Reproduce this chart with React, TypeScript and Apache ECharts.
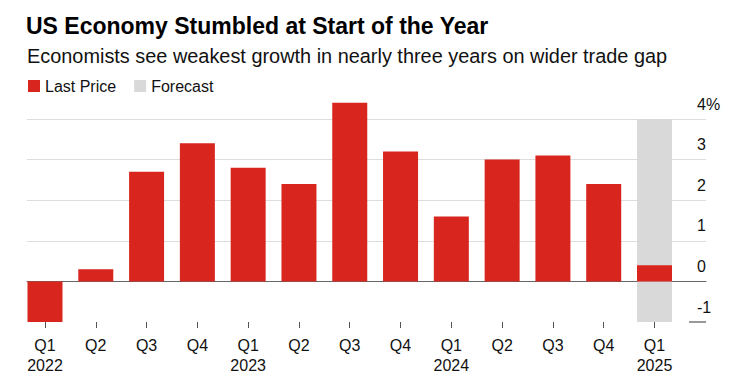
import React, { useEffect, useRef } from "react";
import * as echarts from "echarts";

const quarters = ["Q1", "Q2", "Q3", "Q4", "Q1", "Q2", "Q3", "Q4", "Q1", "Q2", "Q3", "Q4", "Q1"];
const years = ["2022", "", "", "", "2023", "", "", "", "2024", "", "", "", "2025"];
const lastPrice = [-1.0, 0.3, 2.7, 3.4, 2.8, 2.4, 4.4, 3.2, 1.6, 3.0, 3.1, 2.4, 0.4];
const forecastTop = [null, null, null, null, null, null, null, null, null, null, null, null, 4];
const forecastBottom = [null, null, null, null, null, null, null, null, null, null, null, null, -1];
const yMin = -1;
const yMax = 4;
const yStep = 1;

const TITLE = "US Economy Stumbled at Start of the Year";
const SUBTITLE = "Economists see weakest growth in nearly three years on wider trade gap";

const FONT = "'Liberation Sans', Arial, sans-serif";
const RED = "#d8261f";
const GREY = "#d9d9d9";

export default function App() {
  const ref = useRef<HTMLDivElement>(null);
  useEffect(() => {
    if (!ref.current) return;
    const chart = echarts.init(ref.current, undefined, { renderer: "svg" });
    const categories = quarters.map((q, i) => (years[i] ? q + "\n" + years[i] : q));
    chart.setOption({
      animation: false,
      backgroundColor: "#ffffff",
      textStyle: { fontFamily: FONT },
      title: [
        {
          text: TITLE,
          left: 26,
          top: 14,
          padding: 0,
          textStyle: { fontSize: 23, fontWeight: "bold", color: "#000", fontFamily: FONT },
        },
        {
          text: SUBTITLE,
          left: 27,
          top: 46,
          padding: 0,
          textStyle: { fontSize: 19.9, fontWeight: "normal", color: "#111", fontFamily: FONT },
        },
      ],
      legend: {
        data: ["Last Price", "Forecast"],
        left: 28,
        top: 78,
        padding: 0,
        icon: "rect",
        itemWidth: 12,
        itemHeight: 12,
        itemGap: 18,
        textStyle: { fontSize: 16, color: "#111", fontFamily: FONT },
      },
      grid: [
        { left: 19.6, right: 51.1, top: 119, bottom: 70 },
        { left: 27, right: 25, top: 119, bottom: 70 },
      ],
      xAxis: [
        {
          gridIndex: 0,
          type: "category",
          data: categories,
          axisLine: { show: false, onZero: false },
          axisTick: { show: true, alignWithLabel: true, length: 6, lineStyle: { color: "#555" } },
          axisLabel: {
            interval: 0,
            fontSize: 16,
            color: "#111",
            lineHeight: 20,
            margin: 13,
            fontFamily: FONT,
          },
          splitLine: { show: false },
        },
        {
          gridIndex: 1,
          type: "value",
          min: 0,
          max: 1,
          axisLine: { show: true, onZero: true, lineStyle: { color: "#666", width: 1 } },
          axisTick: { show: false },
          axisLabel: { show: false },
          splitLine: { show: false },
        },
      ],
      yAxis: [
        {
          gridIndex: 0,
          type: "value",
          min: yMin,
          max: yMax,
          interval: yStep,
          show: false,
        },
        {
          gridIndex: 1,
          type: "value",
          min: yMin,
          max: yMax,
          interval: yStep,
          position: "right",
          axisLine: { show: false },
          axisTick: { show: false },
          splitLine: { show: true, showMinLine: false, lineStyle: { color: "#dddddd", width: 1 } },
          axisLabel: {
            align: "left",
            margin: -9,
            verticalAlign: "bottom",
            padding: [0, 0, 7, 0],
            fontSize: 16,
            color: "#111",
            fontFamily: FONT,
            formatter: (v: number) => (v === yMax ? v + "%" : String(v)),
          },
        },
      ],
      series: [
        {
          name: "Forecast",
          type: "bar",
          xAxisIndex: 0,
          yAxisIndex: 0,
          stack: "fc",
          data: forecastTop,
          barWidth: 35,
          itemStyle: { color: GREY },
          z: 1,
        },
        {
          name: "Forecast",
          type: "bar",
          xAxisIndex: 0,
          yAxisIndex: 0,
          stack: "fc",
          data: forecastBottom,
          barWidth: 35,
          itemStyle: { color: GREY },
          z: 1,
        },
        {
          name: "Last Price",
          type: "bar",
          xAxisIndex: 0,
          yAxisIndex: 0,
          data: lastPrice,
          barWidth: 35,
          barGap: "-100%",
          clip: false,
          itemStyle: { color: RED },
          z: 3,
        },
        {
          name: "axisMark",
          type: "line",
          xAxisIndex: 1,
          yAxisIndex: 1,
          data: [],
          silent: true,
          markLine: {
            silent: true,
            symbol: "none",
            label: { show: false },
            lineStyle: { color: "#777", type: "solid", width: 1.5 },
            data: [[{ coord: [0.975, yMin] }, { coord: [1, yMin] }]],
          },
        },
      ],
    });
    return () => chart.dispose();
  }, []);
  return (
    <div
      ref={ref}
      style={{ position: "fixed", left: 0, top: 0, width: 731, height: 392 }}
    />
  );
}
